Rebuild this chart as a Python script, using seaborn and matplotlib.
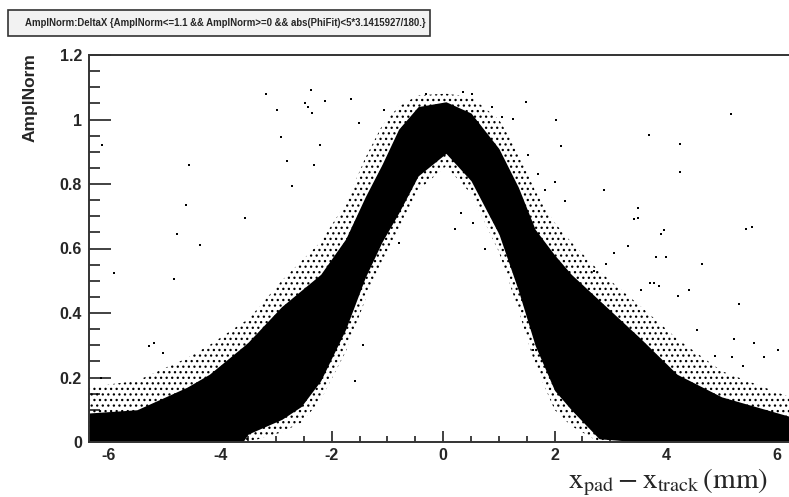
import matplotlib
matplotlib.use("Agg")
import matplotlib.pyplot as plt
import numpy as np
import pandas as pd
import seaborn as sns
from matplotlib.patches import Rectangle
from matplotlib.ticker import MultipleLocator

# ---------------------------------------------------------
# Data
# ---------------------------------------------------------
# x grid where the envelope of the dense band was read
band_x = [-6.36, -5.5, -4.6, -4.2, -3.6, -3.5, -2.9, -2.55, -2.2, -1.75, -1.4, -1.1,
          -0.8, -0.45, 0.05, 0.5, 1.0, 1.35, 1.65, 2.0, 2.3, 2.8, 3.55, 4.2, 5.0, 6.21]
# solid black core of the band (upper / lower edge)
band_hi = [0.09, 0.10, 0.17, 0.21, 0.295, 0.31, 0.42, 0.47, 0.52, 0.63, 0.76, 0.86,
           0.97, 1.04, 1.055, 1.02, 0.91, 0.79, 0.66, 0.58, 0.52, 0.44, 0.32, 0.21, 0.14, 0.08]
band_lo = [0, 0, 0, 0, 0, 0.025, 0.07, 0.11, 0.19, 0.35, 0.51, 0.62,
           0.71, 0.825, 0.895, 0.81, 0.645, 0.47, 0.30, 0.16, 0.10, 0.01, 0, 0, 0, 0]
# speckled fringe around the core
fringe_hi = [0.17, 0.19, 0.26, 0.30, 0.37, 0.38, 0.50, 0.56, 0.62, 0.74, 0.88, 0.98,
             1.04, 1.075, 1.08, 1.07, 1.00, 0.90, 0.78, 0.68, 0.62, 0.53, 0.42, 0.32, 0.22, 0.14]
fringe_lo = [0, 0, 0, 0, 0, 0, 0.03, 0.06, 0.13, 0.28, 0.44, 0.56,
             0.65, 0.78, 0.855, 0.77, 0.59, 0.41, 0.24, 0.10, 0.05, 0, 0, 0, 0, 0]

# isolated entries away from the band
out_x = [-6.13, -4.56, -4.62, -4.78, -5.92, -4.84, -5.29, -5.20, -5.04, -6.15,
         -3.18, -2.37, -2.98, -2.48, -2.42, -2.36, -2.12, -1.66, -1.06, -2.91,
         -2.80, -2.21, -2.71, -3.55, -2.32, -0.30, -1.51, -4.36,
         1.48, 2.03, 2.11, 1.70, 2.19, 0.87, 1.05, 1.25, 1.52, 2.00, 1.82, 0.51, 0.36,
         0.32, 0.21, 0.53, -0.79, 0.75, -1.44, -1.58, 1.61,
         5.17, 3.69, 4.25, 4.25, 2.89, 3.49, 3.42, 3.49, 3.96, 3.92, 5.44, 5.55,
         3.31, 3.06, 3.83, 4.01, 2.92, 4.64, 2.70, 3.72, 3.78, 3.87, 3.56, 4.42,
         4.22, 5.32, 5.23, 5.58, 6.02, 4.88, 5.18, 5.77, 5.39, 4.55]
out_y = [0.92, 0.858, 0.734, 0.645, 0.523, 0.505, 0.297, 0.307, 0.275, 0.20,
         1.08, 1.09, 1.03, 1.05, 1.04, 1.02, 1.058, 1.063, 1.03, 0.946,
         0.872, 0.92, 0.794, 0.695, 0.858, 1.08, 0.99, 0.61,
         1.055, 0.998, 0.919, 0.83, 0.747, 1.04, 1.007, 1.002, 0.889, 0.807, 0.78, 1.08, 1.085,
         0.71, 0.66, 0.68, 0.617, 0.598, 0.30, 0.19, 0.285,
         1.016, 0.951, 0.923, 0.837, 0.781, 0.725, 0.691, 0.695, 0.657, 0.645, 0.66, 0.666,
         0.608, 0.587, 0.574, 0.574, 0.552, 0.552, 0.531, 0.493, 0.494, 0.483, 0.471, 0.471,
         0.452, 0.428, 0.319, 0.307, 0.285, 0.266, 0.263, 0.263, 0.235, 0.347]

title_text = "AmplNorm:DeltaX {AmplNorm<=1.1 && AmplNorm>=0 && abs(PhiFit)<5*3.1415927/180.}"

# ---------------------------------------------------------
# Figure
# ---------------------------------------------------------
sns.set_style("ticks")
plt.rcParams["font.family"] = ["Liberation Sans", "DejaVu Sans"]
plt.rcParams["axes.unicode_minus"] = False
plt.rcParams["mathtext.fontset"] = "stix"
plt.rcParams["hatch.linewidth"] = 0.9

W, H = 789, 497
fig = plt.figure(figsize=(W / 100, H / 100), dpi=100)
ax = fig.add_axes([89 / W, (H - 442) / H, (W - 89) / W, (442 - 55) / H])

# fringe (speckled) then solid core
ax.fill_between(band_x, fringe_lo, fringe_hi, facecolor="none", edgecolor="black",
                hatch="...", linewidth=0)
ax.fill_between(band_x, band_lo, band_hi, color="black", linewidth=0)

outliers = pd.DataFrame({"DeltaX": out_x, "AmplNorm": out_y})
sns.scatterplot(data=outliers, x="DeltaX", y="AmplNorm", ax=ax, color="black",
                marker="s", s=3, linewidth=0)

ax.set_xlim(-6.36, 6.21)
ax.set_ylim(0, 1.2)
ax.set_xlabel("")
ax.set_ylabel("")

ax.xaxis.set_minor_locator(MultipleLocator(0.5))
ax.yaxis.set_minor_locator(MultipleLocator(0.05))
ax.set_xticks([-6, -4, -2, 0, 2, 4, 6])
ax.set_xticklabels(["-6", "-4", "-2", "0", "2", "4", "6"])
ax.set_yticks([0, 0.2, 0.4, 0.6, 0.8, 1.0, 1.2])
ax.set_yticklabels(["0", "0.2", "0.4", "0.6", "0.8", "1", "1.2"])

ax.tick_params(axis="both", which="both", direction="in", color="#333333", width=1.3,
               labelsize=11.5, top=False, right=False)
ax.tick_params(axis="y", which="major", length=15.5, pad=5)
ax.tick_params(axis="y", which="minor", length=7.8)
ax.tick_params(axis="x", which="major", length=8, pad=4)
ax.tick_params(axis="x", which="minor", length=4.3)
for lab in ax.get_xticklabels() + ax.get_yticklabels():
    lab.set_fontweight("bold")

for side in ["left", "bottom", "top"]:
    ax.spines[side].set_color("#333333")
    ax.spines[side].set_linewidth(1.4)
ax.spines["right"].set_visible(False)

# title box
fig.patches.append(Rectangle((8 / W, (H - 36) / H), 422 / W, 26 / H,
                             transform=fig.transFigure, facecolor="#f2f2f2",
                             edgecolor="#333333", linewidth=1.2))
fig.text(225 / W, (H - 23) / H, title_text, ha="center", va="center",
         fontsize=6.9, fontweight="bold")

fig.text(30 / W, (H - 53) / H, "AmplNorm", rotation=90, ha="center", va="top",
         fontsize=12.5, fontweight="bold")
fig.text(768 / W, (H - 488) / H, r"$\mathrm{x_{pad} - x_{track}\,(mm)}$",
         ha="right", va="baseline", fontsize=21)

fig.savefig("out.png", dpi=100)
